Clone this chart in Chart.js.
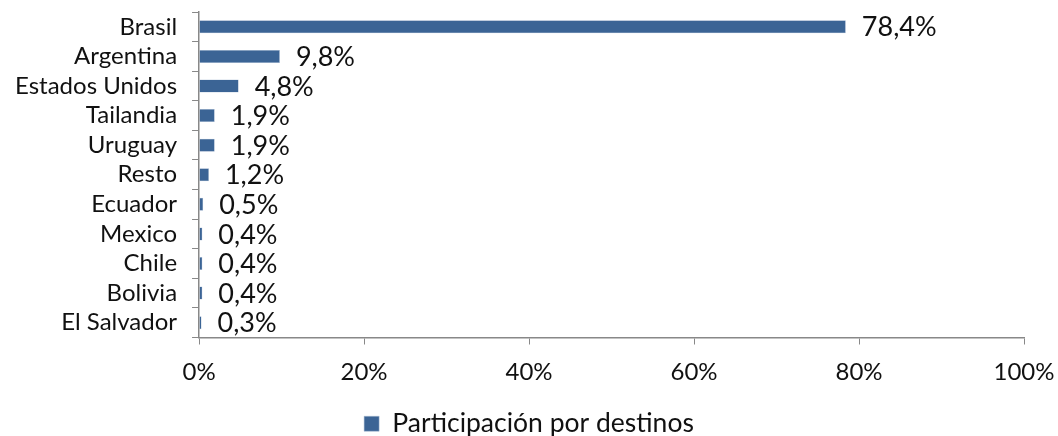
<!DOCTYPE html>
<html>
<head>
<meta charset="utf-8">
<script src="https://cdn.jsdelivr.net/npm/chart.js@4"></script>
<style>
  html, body { margin: 0; padding: 0; background: #fff; }
  #wrap { width: 1058px; height: 436px; }
</style>
</head>
<body>
<div id="wrap"><canvas id="destChart" width="1058" height="436"></canvas></div>
<script>
const paises = ["Brasil", "Argentina", "Estados Unidos", "Tailandia", "Uruguay", "Resto",
  "Ecuador", "Mexico", "Chile", "Bolivia", "El Salvador"];
const participacion = [78.4, 9.8, 4.8, 1.9, 1.9, 1.2, 0.5, 0.4, 0.4, 0.4, 0.3];
const ticksX = [0, 20, 40, 60, 80, 100];

const fontName = "Lato, 'Open Sans', sans-serif";

// etiquetas de valor a la derecha de cada barra
const valueLabels = {
  id: "valueLabels",
  afterDatasetsDraw(chart) {
    const ctx = chart.ctx;
    const meta = chart.getDatasetMeta(0);
    ctx.save();
    ctx.font = "27px " + fontName;
    ctx.fillStyle = "#111";
    ctx.textBaseline = "middle";
    ctx.textAlign = "left";
    meta.data.forEach(function (bar, i) {
      const txt = participacion[i].toFixed(1).replace(".", ",") + "%";
      ctx.fillText(txt, bar.x + 16, bar.y + 1);
    });
    ctx.restore();
  }
};

const ctx = document.getElementById("destChart");
new Chart(ctx, {
  type: "bar",
  data: {
    labels: paises,
    datasets: [
      {
        label: "Participación por destinos",
        data: participacion,
        backgroundColor: "#3B6495",
        borderColor: "#A9BBD3",
        borderWidth: 0.5,
        barPercentage: 0.44,
        categoryPercentage: 1.0,
      },
    ],
  },
  options: {
    responsive: false,
    animation: false,
    indexAxis: "y",
    layout: { padding: { left: 0, right: 0, top: 12, bottom: -11 } },
    scales: {
      x: {
        min: 0,
        max: 100,
        afterBuildTicks: function (axis) {
          axis.ticks = ticksX.map(function (v) { return { value: v }; });
        },
        afterFit: function (axis) {
          axis.height = 72;
          axis.paddingLeft = 0;
          axis.paddingRight = 34;
        },
        ticks: {
          color: "#111",
          font: { family: fontName, size: 24 },
          padding: 13,
          callback: function (v) { return v + "%"; },
        },
        grid: {
          drawOnChartArea: false,
          tickLength: 7,
          color: "#888",
        },
        border: { color: "#888", width: 1.5 },
      },
      y: {
        afterFit: function (axis) {
          axis.paddingTop = 0;
          axis.paddingBottom = 0;
        },
        ticks: {
          color: "#111",
          font: { family: fontName, size: 24 },
          padding: 15,
          autoSkip: false,
        },
        grid: {
          drawOnChartArea: false,
          offset: true,
          tickLength: 7,
          color: "#888",
        },
        border: { color: "#888", width: 1.5 },
      },
    },
    plugins: {
      legend: {
        position: "bottom",
        labels: {
          color: "#111",
          font: { family: fontName, size: 26.5 },
          boxWidth: 15,
          boxHeight: 15,
          padding: 1,
        },
      },
      tooltip: { enabled: false },
    },
  },
  plugins: [valueLabels],
});
</script>
</body>
</html>
